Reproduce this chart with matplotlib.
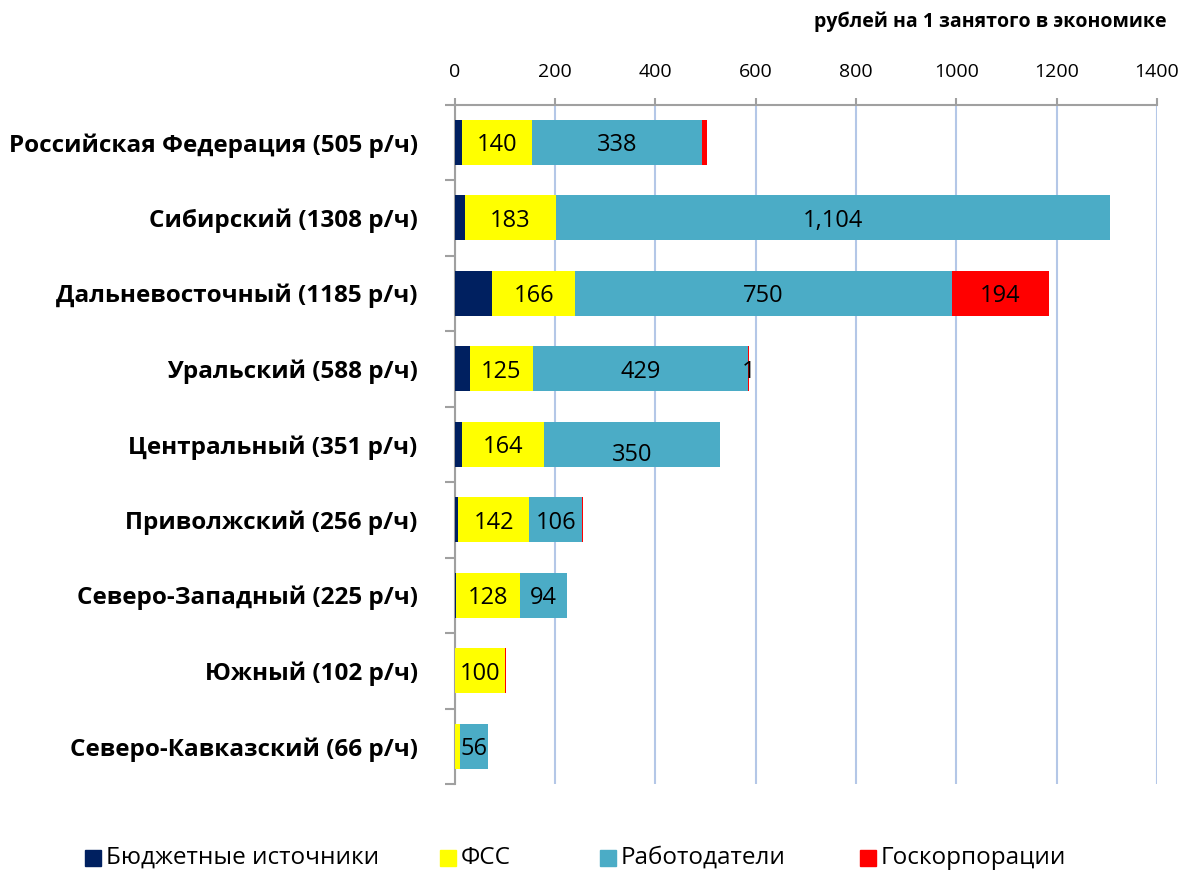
import matplotlib
matplotlib.use("Agg")
import matplotlib.pyplot as plt
import numpy as np

categories = [
    "Российская Федерация (505 р/ч)",
    "Сибирский (1308 р/ч)",
    "Дальневосточный (1185 р/ч)",
    "Уральский (588 р/ч)",
    "Центральный (351 р/ч)",
    "Приволжский (256 р/ч)",
    "Северо-Западный (225 р/ч)",
    "Южный (102 р/ч)",
    "Северо-Кавказский (66 р/ч)",
]
series_names = ["Бюджетные источники", "ФСС", "Работодатели", "Госкорпорации"]
budget = [15, 20, 75, 31, 15, 7, 2, 1, 1]
fss = [140, 183, 166, 125, 164, 142, 128, 100, 9]
employers = [338, 1104, 750, 429, 350, 106, 94, 0.5, 56]
goscorp = [11, 0, 194, 1, 0, 0.4, 0.4, 0.4, 0]

fss_labels = ["140", "183", "166", "125", "164", "142", "128", "100", ""]
emp_labels = ["338", "1,104", "750", "429", "350", "106", "94", "", "56"]
gos_labels = ["", "", "194", "1", "", "", "", "", ""]

colors = ["#002060", "#FFFF00", "#4BACC6", "#FF0000"]
x_ticks = [0, 200, 400, 600, 800, 1000, 1200, 1400]
axis_title = "рублей на 1 занятого в экономике"

plt.rcParams['font.family'] = ['Open Sans', 'DejaVu Sans']

fig = plt.figure(figsize=(11.84, 8.74), dpi=100)
ax = fig.add_axes([454.5/1184, 1-784/874, (1157-454.5)/1184, (784-104.5)/874])

y = np.arange(len(categories))
h = 0.6
data = [budget, fss, employers, goscorp]
left = np.zeros(len(categories))
bars = []
for vals, col, name in zip(data, colors, series_names):
    b = ax.barh(y, vals, height=h, left=left, color=col, label=name, zorder=3)
    bars.append(b)
    left = left + np.array(vals, dtype=float)

def put_labels(bc, labels, dy=None):
    for i, (rect, lab) in enumerate(zip(bc, labels)):
        if not lab:
            continue
        cx = rect.get_x() + rect.get_width() / 2
        cy = rect.get_y() + rect.get_height() / 2
        if dy is not None:
            cy += dy[i]
        ax.text(cx, cy, lab, ha="center", va="center_baseline", fontsize=17, color="black", zorder=5)

put_labels(bars[1], fss_labels)
emp_dy = [0, 0, 0, 0, 0.1, 0, 0, 0, 0]
put_labels(bars[2], emp_labels, emp_dy)
put_labels(bars[3], gos_labels)

ax.set_xlim(0, 1400)
ax.set_ylim(8.5, -0.5)
ax.xaxis.tick_top()
ax.set_xticks(x_ticks)
ax.set_xticklabels([str(t) for t in x_ticks])
ax.tick_params(axis="x", length=5, width=1.5, color="#a0a0a0", labelsize=14, pad=12, direction="out")
ax.set_yticks(y)
ax.set_yticklabels(categories, fontsize=17.5, fontweight="bold")
ax.tick_params(axis="y", length=0, pad=26.5)
ax.set_yticks(np.arange(-0.5, len(categories) + 0.5, 1), minor=True)
ax.tick_params(axis="y", which="minor", length=7, width=1.5, color="#a0a0a0", direction="out")

ax.grid(axis="x", color="#b4c7e7", linewidth=1.5, zorder=0)
for s in ["right", "bottom"]:
    ax.spines[s].set_visible(False)
for s in ["top", "left"]:
    ax.spines[s].set_color("#a0a0a0")
    ax.spines[s].set_linewidth(1.5)

fig.text(1167/1184, 1-22/874, axis_title, ha="right", va="center", fontsize=14, fontweight="bold")

# legend drawn manually in figure coordinates
leg_x = [85, 440, 600, 860]
leg_y = 858
for xpx, c, name in zip(leg_x, colors, series_names):
    fig.patches.append(plt.Rectangle((xpx/1184, 1-(leg_y+8)/874), 16/1184, 16/874,
                                     transform=fig.transFigure, color=c))
    fig.text((xpx+21)/1184, 1-leg_y/874, name, ha="left", va="center", fontsize=17.5)

fig.savefig("out.png", dpi=100)
